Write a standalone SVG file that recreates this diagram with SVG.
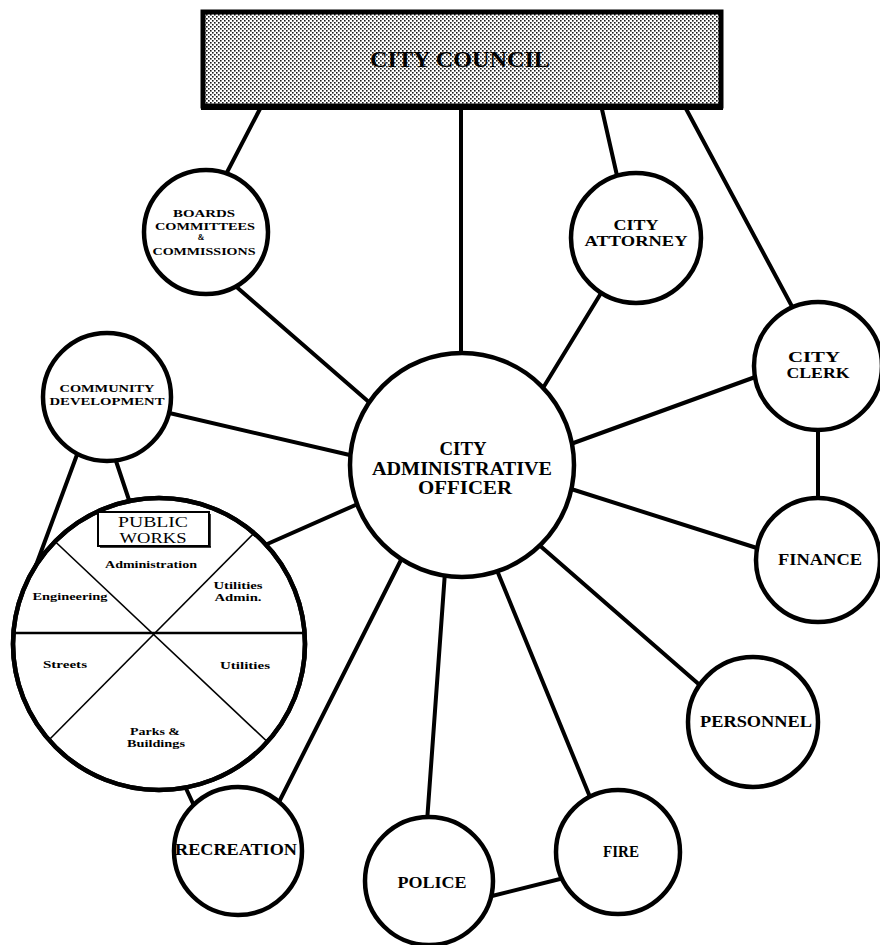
<svg xmlns="http://www.w3.org/2000/svg" width="880" height="945" viewBox="0 0 880 945">
  <defs>
    <!-- halftone screen used for the council banner -->
    <pattern id="screen" width="4" height="4" patternUnits="userSpaceOnUse">
      <rect width="4" height="4" fill="#fff"/>
      <rect x="0" y="0" width="1.6" height="1.6" fill="#1a1a1a"/>
      <rect x="2" y="2" width="1.6" height="1.6" fill="#1a1a1a"/>
    </pattern>
    <clipPath id="pw-clip"><circle cx="159" cy="644" r="146"/></clipPath>
  </defs>
  <style>
    .link{stroke:#000;stroke-width:4;stroke-linecap:round;fill:none}
    .node{fill:#fff;stroke:#000;stroke-width:4.5}
    .lbl{font-family:"Liberation Serif","Times New Roman",serif;font-weight:bold;fill:#000;text-anchor:middle}
    .big{font-size:19px}
    .mid{font-size:17px}
    .pair{font-size:15px}
    .sm{font-size:11px}
    .sub{font-size:11px}
    .div{stroke:#000;fill:none}
  </style>

  <rect width="880" height="945" fill="#fff"/>

  <!-- connectors -->
  <g id="connectors">
    <line class="link" x1="461" y1="108" x2="461" y2="360"/>
    <line class="link" x1="262" y1="105" x2="223" y2="180"/>
    <line class="link" x1="601" y1="105" x2="618" y2="180"/>
    <line class="link" x1="684" y1="105" x2="795" y2="312"/>
    <line class="link" x1="232" y1="283" x2="370" y2="403"/>
    <line class="link" x1="606" y1="285" x2="543" y2="388"/>
    <line class="link" x1="758" y1="376" x2="568" y2="445"/>
    <line class="link" x1="818" y1="420" x2="818" y2="505"/>
    <line class="link" x1="760" y1="549" x2="568" y2="488"/>
    <line class="link" x1="702" y1="687" x2="538" y2="544"/>
    <line class="link" x1="590" y1="797" x2="496" y2="568"/>
    <line class="link" x1="427" y1="822" x2="445" y2="572"/>
    <line class="link" x1="278" y1="804" x2="403" y2="556"/>
    <line class="link" x1="488" y1="897" x2="568" y2="877"/>
    <line class="link" x1="265" y1="545" x2="360" y2="503"/>
    <line class="link" x1="165" y1="412" x2="354" y2="456"/>
    <line class="link" x1="78" y1="452" x2="35" y2="568"/>
    <line class="link" x1="114" y1="455" x2="131" y2="506"/>
    <line class="link" x1="183" y1="782" x2="196" y2="810"/>
  </g>

  <!-- governing body -->
  <g id="city-council">
    <rect x="203" y="12" width="518" height="94" fill="url(#screen)" stroke="#000" stroke-width="5"/>
    <line x1="201" y1="107" x2="723" y2="107" stroke="#000" stroke-width="6"/>
    <text class="lbl" x="460" y="67" font-size="24" textLength="180" lengthAdjust="spacingAndGlyphs">CITY COUNCIL</text>
  </g>

  <g id="boards">
    <circle class="node" cx="206" cy="232" r="62"/>
    <text class="lbl sm" x="204" y="217" textLength="62" lengthAdjust="spacingAndGlyphs">BOARDS</text>
    <text class="lbl sm" x="205" y="230" textLength="100" lengthAdjust="spacingAndGlyphs">COMMITTEES</text>
    <text class="lbl" x="201" y="240" font-size="8">&amp;</text>
    <text class="lbl sm" x="204" y="255" textLength="103" lengthAdjust="spacingAndGlyphs">COMMISSIONS</text>
  </g>

  <g id="city-attorney">
    <circle class="node" cx="636" cy="238" r="65"/>
    <text class="lbl pair" x="636" y="230" textLength="45" lengthAdjust="spacingAndGlyphs">CITY</text>
    <text class="lbl pair" x="636" y="246" textLength="103" lengthAdjust="spacingAndGlyphs">ATTORNEY</text>
  </g>

  <g id="city-clerk">
    <circle class="node" cx="818" cy="366" r="64"/>
    <text class="lbl pair" x="814" y="362" textLength="52" lengthAdjust="spacingAndGlyphs">CITY</text>
    <text class="lbl pair" x="818" y="378" textLength="63" lengthAdjust="spacingAndGlyphs">CLERK</text>
  </g>

  <g id="finance">
    <circle class="node" cx="818" cy="560" r="62"/>
    <text class="lbl mid" x="820" y="565" textLength="84" lengthAdjust="spacingAndGlyphs">FINANCE</text>
  </g>

  <g id="personnel">
    <circle class="node" cx="753" cy="722" r="65"/>
    <text class="lbl mid" x="756" y="727" textLength="112" lengthAdjust="spacingAndGlyphs">PERSONNEL</text>
  </g>

  <g id="fire">
    <circle class="node" cx="618" cy="852" r="62"/>
    <text class="lbl mid" x="621" y="857" textLength="36" lengthAdjust="spacingAndGlyphs">FIRE</text>
  </g>

  <g id="police">
    <circle class="node" cx="429" cy="881" r="64"/>
    <text class="lbl mid" x="432" y="888" textLength="69" lengthAdjust="spacingAndGlyphs">POLICE</text>
  </g>

  <g id="recreation">
    <circle class="node" cx="238" cy="851" r="64"/>
    <text class="lbl mid" x="236" y="855" textLength="122" lengthAdjust="spacingAndGlyphs">RECREATION</text>
  </g>

  <g id="community-development">
    <circle class="node" cx="107" cy="397" r="64"/>
    <text class="lbl sm" x="107" y="392" textLength="95" lengthAdjust="spacingAndGlyphs">COMMUNITY</text>
    <text class="lbl sm" x="107" y="405" textLength="115" lengthAdjust="spacingAndGlyphs">DEVELOPMENT</text>
  </g>

  <!-- public works, split into its six divisions -->
  <g id="public-works">
    <circle class="node" cx="159" cy="644" r="146"/>
    <g clip-path="url(#pw-clip)">
      <line class="div" x1="10" y1="633" x2="310" y2="633" stroke-width="2.5"/>
      <line class="div" x1="45" y1="532" x2="275" y2="749" stroke-width="1.6"/>
      <line class="div" x1="263" y1="524" x2="40" y2="749" stroke-width="1.6"/>
    </g>
    <circle cx="159" cy="644" r="146" fill="none" stroke="#000" stroke-width="4.5"/>
    <rect x="98" y="512" width="111" height="34" fill="#fff" stroke="#000" stroke-width="2"/>
    <line x1="100" y1="547" x2="211" y2="547" stroke="#000" stroke-width="1.5"/>
    <line x1="210" y1="514" x2="210" y2="547" stroke="#000" stroke-width="1.5"/>
    <text class="lbl" x="153" y="527" font-size="15" textLength="70" lengthAdjust="spacingAndGlyphs" style="font-weight:normal">PUBLIC</text>
    <text class="lbl" x="153" y="543" font-size="15" textLength="67" lengthAdjust="spacingAndGlyphs" style="font-weight:normal">WORKS</text>
    <text class="lbl sub" x="151" y="568" textLength="92" lengthAdjust="spacingAndGlyphs">Administration</text>
    <text class="lbl sub" x="70" y="600" textLength="75" lengthAdjust="spacingAndGlyphs">Engineering</text>
    <text class="lbl sub" x="238" y="589" textLength="49" lengthAdjust="spacingAndGlyphs">Utilities</text>
    <text class="lbl sub" x="238" y="601" textLength="47" lengthAdjust="spacingAndGlyphs">Admin.</text>
    <text class="lbl sub" x="65" y="668" textLength="44" lengthAdjust="spacingAndGlyphs">Streets</text>
    <text class="lbl sub" x="245" y="669" textLength="50" lengthAdjust="spacingAndGlyphs">Utilities</text>
    <text class="lbl sub" x="155" y="735" textLength="50" lengthAdjust="spacingAndGlyphs">Parks &amp;</text>
    <text class="lbl sub" x="156" y="747" textLength="58" lengthAdjust="spacingAndGlyphs">Buildings</text>
  </g>

  <g id="city-administrative-officer">
    <circle class="node" cx="462" cy="465" r="112"/>
    <text class="lbl big" x="463" y="455" textLength="47" lengthAdjust="spacingAndGlyphs">CITY</text>
    <text class="lbl big" x="462" y="475" textLength="180" lengthAdjust="spacingAndGlyphs">ADMINISTRATIVE</text>
    <text class="lbl big" x="465" y="494" textLength="94" lengthAdjust="spacingAndGlyphs">OFFICER</text>
  </g>
</svg>
